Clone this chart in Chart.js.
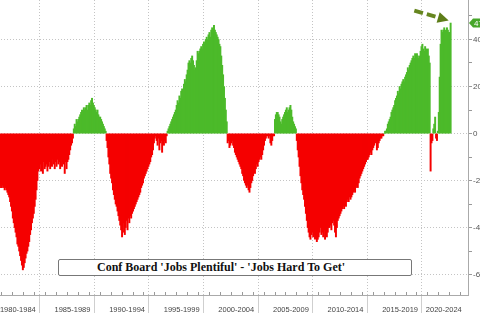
<!DOCTYPE html>
<html>
<head>
<meta charset="utf-8">
<script src="https://cdn.jsdelivr.net/npm/chart.js@4.4.1/dist/chart.umd.min.js"></script>
<style>
html,body{margin:0;padding:0;width:480px;height:314px;overflow:hidden;background:#fff;}
#wrap{position:absolute;left:-14px;top:0;width:512px;height:320px;}
#caption{position:absolute;left:58px;top:259px;width:354px;height:17px;box-sizing:border-box;
  border:1px solid #777;border-radius:2px;background:#fff;padding-left:38px;
  font:bold 12px "Liberation Serif",serif;line-height:15px;color:#111;white-space:nowrap;}
</style>
</head>
<body>
<div id="wrap"><canvas id="chart" width="512" height="320"></canvas></div>
<div id="caption">Conf Board 'Jobs Plentiful' - 'Jobs Hard To Get'</div>
<script>
// monthly labor differential, Jan 1980 .. Feb 2022
var startYear = 1980;
var diff1980s = [
 -10,-11,-13,-15,-18,-21,-22,-23,-23,-22,-22,-23,
 -23,-22,-23,-24,-23,-24,-25,-26,-27,-29,-31,-33,
 -36,-38,-40,-42,-44,-47,-48,-50,-52,-54,-56,-58,
 -57,-55,-53,-51,-50,-48,-46,-43,-41,-38,-36,-34,
 -31,-28,-24,-20,-16,-15,-13,-16,-14,-17,-12,-15,
 -14,-13,-16,-14,-12,-15,-13,-14,-11,-13,-15,-12,
 -14,-11,-13,-12,-15,-11,-14,-12,-13,-17,-12,-15,
 -12,-11,-9,-7,-5,-4,-2,2,4,3,6,5,
 6,7,8,9,10,8,11,10,11,12,10,12,
 13,12,14,15,13,12,11,10,9,10,8,7
];
var diff1990s = [
 7,6,5,4,3,2,1,-3,-6,-10,-13,-17,
 -19,-21,-24,-26,-28,-30,-31,-33,-35,-37,-39,-41,
 -44,-42,-38,-43,-40,-37,-41,-36,-38,-35,-36,-34,
 -33,-32,-31,-30,-29,-28,-27,-26,-25,-23,-22,-21,
 -19,-18,-17,-16,-15,-14,-13,-12,-10,-9,-7,-4,
 -2,-1,-3,-5,-2,-7,-4,-3,-8,-2,-5,-3,
 -4,-1,1,2,3,4,5,6,7,8,9,10,
 12,14,13,16,15,18,19,18,21,23,22,25,
 27,30,31,30,32,33,31,29,27,28,31,35,
 34,35,36,37,36,38,39,38,40,41,40,42
];
var diff2000s = [
 43,41,44,45,43,46,44,43,42,41,40,38,
 37,33,29,25,20,15,10,5,-4,-3,-6,-5,
 -4,-3,-5,-6,-8,-9,-10,-11,-12,-13,-14,-15,
 -17,-18,-20,-21,-22,-23,-22,-24,-25,-23,-21,-20,
 -18,-16,-17,-15,-13,-14,-12,-11,-10,-11,-9,-7,
 -5,-3,-2,-1,-1,-2,-1,-4,-5,-3,-1,-1,
 6,8,9,9,8,7,5,4,6,7,8,9,
 10,11,9,10,11,12,10,7,5,4,3,2,
 -3,-7,-10,-14,-18,-21,-24,-26,-28,-31,-34,-37,
 -40,-42,-44,-45,-43,-42,-44,-43,-45,-44,-46,-45
];
var diff2010s = [
 -44,-42,-40,-43,-42,-44,-41,-45,-43,-44,-42,-40,
 -40,-39,-41,-38,-37,-39,-42,-44,-40,-37,-36,-35,
 -34,-33,-32,-31,-32,-30,-31,-29,-28,-29,-27,-28,
 -27,-26,-25,-24,-25,-23,-22,-23,-21,-19,-18,-17,
 -16,-15,-14,-13,-12,-11,-11,-10,-9,-8,-9,-7,
 -6,-5,-3,-4,-7,-6,-4,-3,-2,-2,-1,-1,
 0,1,1,2,4,5,6,7,9,10,11,12,
 14,15,16,18,17,20,19,21,22,23,22,24,
 25,26,28,27,29,30,31,32,33,32,34,33,
 34,33,32,33,35,37,38,36,35,37,36,34
];
var diff2020s = [
 36,33,30,-16,-4,-3,2,4,7,-2,-3,1,
 9,24,38,44,43,44,45,44,43,45,44,43,
 43,47
];
var periodLabels = ['1980-1984','1985-1989','1990-1994','1995-1999','2000-2004',
  '2005-2009','2010-2014','2015-2019','2020-2024'];
var periodCenters = [1982.5,1987.5,1992.5,1997.5,2002.5,2007.5,2012.5,2017.5,2021.5];
var yTickValues = [-60,-50,-40,-30,-20,-10,0,10,20,30,40,50];

var allValues = diff1980s.concat(diff1990s, diff2000s, diff2010s, diff2020s);
var points = [];
for (var i = 0; i < allValues.length; i++) {
	points.push({x: startYear + i/12 + 1/24, y: allValues[i]});
}

var green = '#4cba2a';
var red = '#f50000';
var gridGray = '#c4c4c4';

var extras = {
	id: 'extras',
	afterDraw: function(chart) {
		var ctx = chart.ctx, area = chart.chartArea;
		var xs = chart.scales.x, ys = chart.scales.y;
		ctx.save();
		// small yearly ticks on the time axis
		ctx.strokeStyle = '#999';
		ctx.lineWidth = 1;
		for (var yr = Math.ceil(xs.min); yr <= xs.max; yr++) {
			var px = Math.round(xs.getPixelForValue(yr)) + 0.5;
			ctx.beginPath();
			ctx.moveTo(px, area.bottom - 3);
			ctx.lineTo(px, area.bottom);
			ctx.stroke();
		}
		// last value tag
		var last = allValues[allValues.length - 1];
		var ty = ys.getPixelForValue(last);
		var tx = ys.left + 1;
		ctx.fillStyle = '#47a62a';
		ctx.beginPath();
		ctx.moveTo(tx, ty);
		ctx.lineTo(tx + 4, ty - 4.5);
		ctx.lineTo(tx + 28, ty - 4.5);
		ctx.lineTo(tx + 28, ty + 4.5);
		ctx.lineTo(tx + 4, ty + 4.5);
		ctx.closePath();
		ctx.fill();
		ctx.fillStyle = '#fff';
		ctx.font = '8px "Liberation Sans"';
		ctx.textBaseline = 'middle';
		ctx.fillText(String(last), tx + 5, ty + 0.5);
		// dashed arrow pointing at the latest reading
		var x0 = xs.getPixelForValue(2018.8), y0 = ys.getPixelForValue(52.3);
		var x1 = xs.getPixelForValue(2021.95), y1 = ys.getPixelForValue(48.1);
		var dx = x1 - x0, dy = y1 - y0, len = Math.sqrt(dx*dx + dy*dy);
		var ux = dx/len, uy = dy/len;
		var head = 11;
		ctx.strokeStyle = '#66861f';
		ctx.lineWidth = 4;
		ctx.setLineDash([9, 4]);
		ctx.beginPath();
		ctx.moveTo(x0, y0);
		ctx.lineTo(x1 - ux*head, y1 - uy*head);
		ctx.stroke();
		ctx.setLineDash([]);
		ctx.fillStyle = '#5d7d18';
		ctx.beginPath();
		ctx.moveTo(x1, y1);
		ctx.lineTo(x1 - ux*head - uy*5.5, y1 - uy*head + ux*5.5);
		ctx.lineTo(x1 - ux*head + uy*5.5, y1 - uy*head - ux*5.5);
		ctx.closePath();
		ctx.fill();
		ctx.restore();
	}
};

var config = {
	type: 'bar',
	data: {
		datasets: [{
			data: points,
			backgroundColor: allValues.map(function(v){ return v >= 0 ? green : red; }),
			borderWidth: 0,
			barThickness: 1.3
		}]
	},
	options: {
		responsive: false,
		animation: false,
		layout: { padding: 0 },
		plugins: { legend: { display: false }, tooltip: { enabled: false } },
		scales: {
			x: {
				type: 'linear',
				min: 1980,
				max: 2023.3,
				afterBuildTicks: function(s) {
					var t = [];
					for (var yr = 1980; yr <= 2023; yr++) t.push({value: yr});
					for (var k = 0; k < periodCenters.length; k++) t.push({value: periodCenters[k]});
					t.sort(function(a, b){ return a.value - b.value; });
					s.ticks = t;
				},
				afterFit: function(s) { s.height = 25; s.paddingLeft = 0; s.paddingRight = 0; },
				ticks: {
					autoSkip: false,
					maxRotation: 0,
					minRotation: 0,
					padding: -8,
					color: '#444',
					font: { family: 'Liberation Sans', size: 7.5 },
					callback: function(v) {
						var k = periodCenters.indexOf(v);
						return k >= 0 ? periodLabels[k] : '';
					}
				},
				grid: {
					color: function(c) { return c.tick && c.tick.value % 5 === 0 ? gridGray : 'rgba(0,0,0,0)'; },
					tickColor: function(c) { return c.tick && c.tick.value % 5 === 0 ? '#cfcfcf' : 'rgba(0,0,0,0)'; },
					tickLength: 18
				},
				border: { color: '#aaa', dash: [1, 2] }
			},
			y: {
				position: 'right',
				min: -68.7,
				max: 56.8,
				afterBuildTicks: function(s) {
					s.ticks = yTickValues.map(function(v){ return {value: v}; });
				},
				afterFit: function(s) { s.width = 30; s.paddingTop = 0; s.paddingBottom = 0; },
				ticks: {
					padding: 1,
					color: '#555',
					font: { family: 'Liberation Sans', size: 8 },
					callback: function(v) { return v % 20 === 0 ? String(v) : ''; }
				},
				grid: {
					color: function(c) { return c.tick && c.tick.value % 20 === 0 ? gridGray : 'rgba(0,0,0,0)'; },
					tickColor: '#999',
					tickLength: 4
				},
				border: { color: '#aaa', dash: [1, 2] }
			}
		}
	},
	plugins: [extras]
};

var ctx = document.getElementById('chart').getContext('2d');
window.myChart = new Chart(ctx, config);
</script>
</body>
</html>
